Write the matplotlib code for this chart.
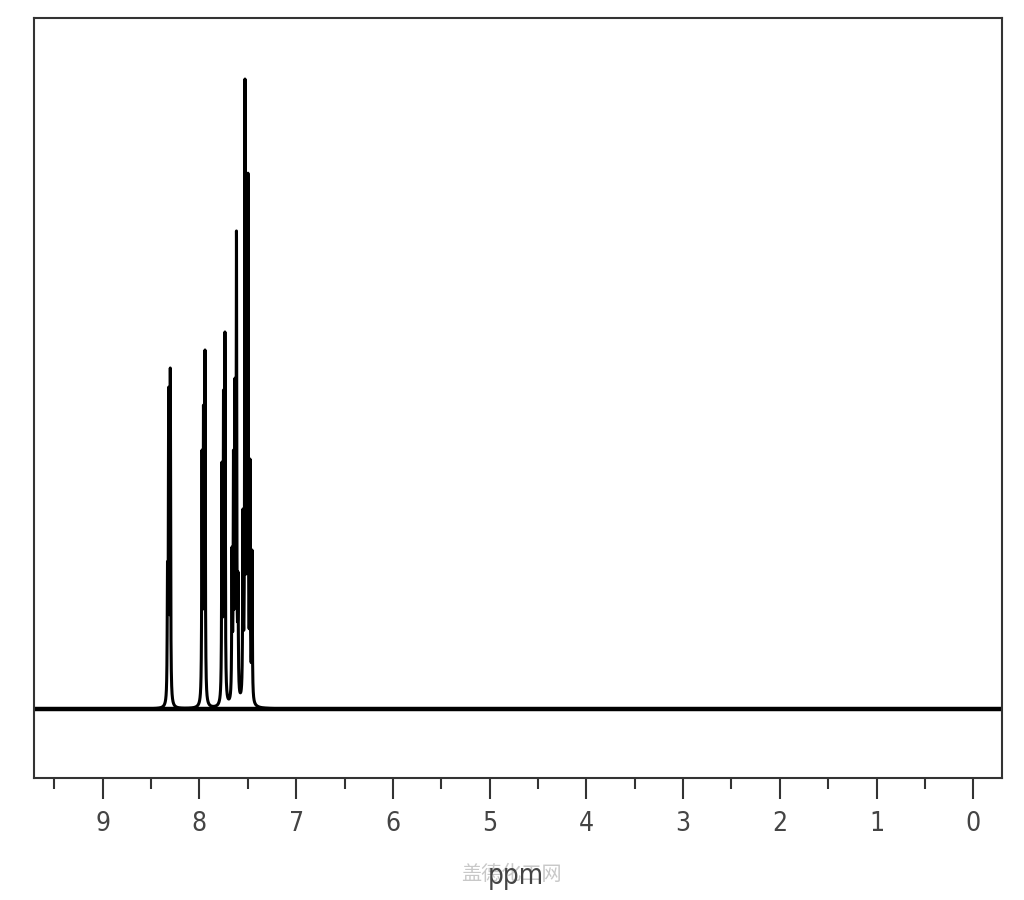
import numpy as np
import matplotlib
matplotlib.use('Agg')
import matplotlib.pyplot as plt

# peak positions (ppm) and observed peak heights (arbitrary intensity)
peak_ppm = [8.330, 8.318, 8.301,
            7.973, 7.958, 7.942,
            7.767, 7.751, 7.736,
            7.663, 7.648, 7.632, 7.617, 7.601,
            7.550, 7.529, 7.513, 7.498, 7.477, 7.456]
peak_height = [147, 322, 341,
               259, 304, 359,
               247, 319, 377,
               162, 259, 331, 478, 137,
               200, 630, 254, 536, 250, 159]
line_width = 0.0035  # half width at half max, ppm

xticks = [9, 8, 7, 6, 5, 4, 3, 2, 1, 0]


def lorentz(d, g):
    return g**2 / (d**2 + g**2)


# solve for amplitudes so that the summed spectrum hits the read heights
pp = np.array(peak_ppm)
M = lorentz(pp[:, None] - pp[None, :], line_width)
amps = np.linalg.solve(M, np.array(peak_height, dtype=float))

x = np.linspace(9.71, -0.30, 60000)
y = np.zeros_like(x)
for p, a in zip(peak_ppm, amps):
    y += a * lorentz(x - p, line_width)

fig = plt.figure(figsize=(10.24, 9), dpi=100)
ax = fig.add_axes([34/1024, 1 - 777.5/900, (1001.7-34)/1024, (777.5-18)/900])
ax.axhline(0, color='black', lw=3.2, zorder=1)
ax.plot(x, y, color='black', lw=2.2, zorder=2)

ax.set_xlim(9.71, -0.294)
ax.set_ylim(-68.5, 691)
ax.set_yticks([])
ax.set_xticks(xticks)
ax.set_xticks(np.arange(9.5, -0.3, -1.0), minor=True)
ax.set_xticklabels([str(t) for t in xticks], fontsize=19, color='#444444',
                   fontstretch='condensed')
ax.tick_params(axis='x', which='major', length=15, width=1.5, pad=9,
               direction='out', color='#333333')
ax.tick_params(axis='x', which='minor', length=8, width=1.5,
               direction='out', color='#333333')
for s in ax.spines.values():
    s.set_linewidth(1.5)
    s.set_color('#333333')

fig.text(511/1024, 1 - 875/900, '盖德化工网', fontsize=14.5, color='#c8c8c8',
         family=['Noto Sans CJK SC', 'DejaVu Sans'], ha='center', va='center', zorder=1)
fig.text(516/1024, 1 - 876/900, 'ppm', fontsize=20, color='#444444',
         fontstretch='condensed', ha='center', va='center', zorder=2)

fig.savefig('out.png', dpi=100)
